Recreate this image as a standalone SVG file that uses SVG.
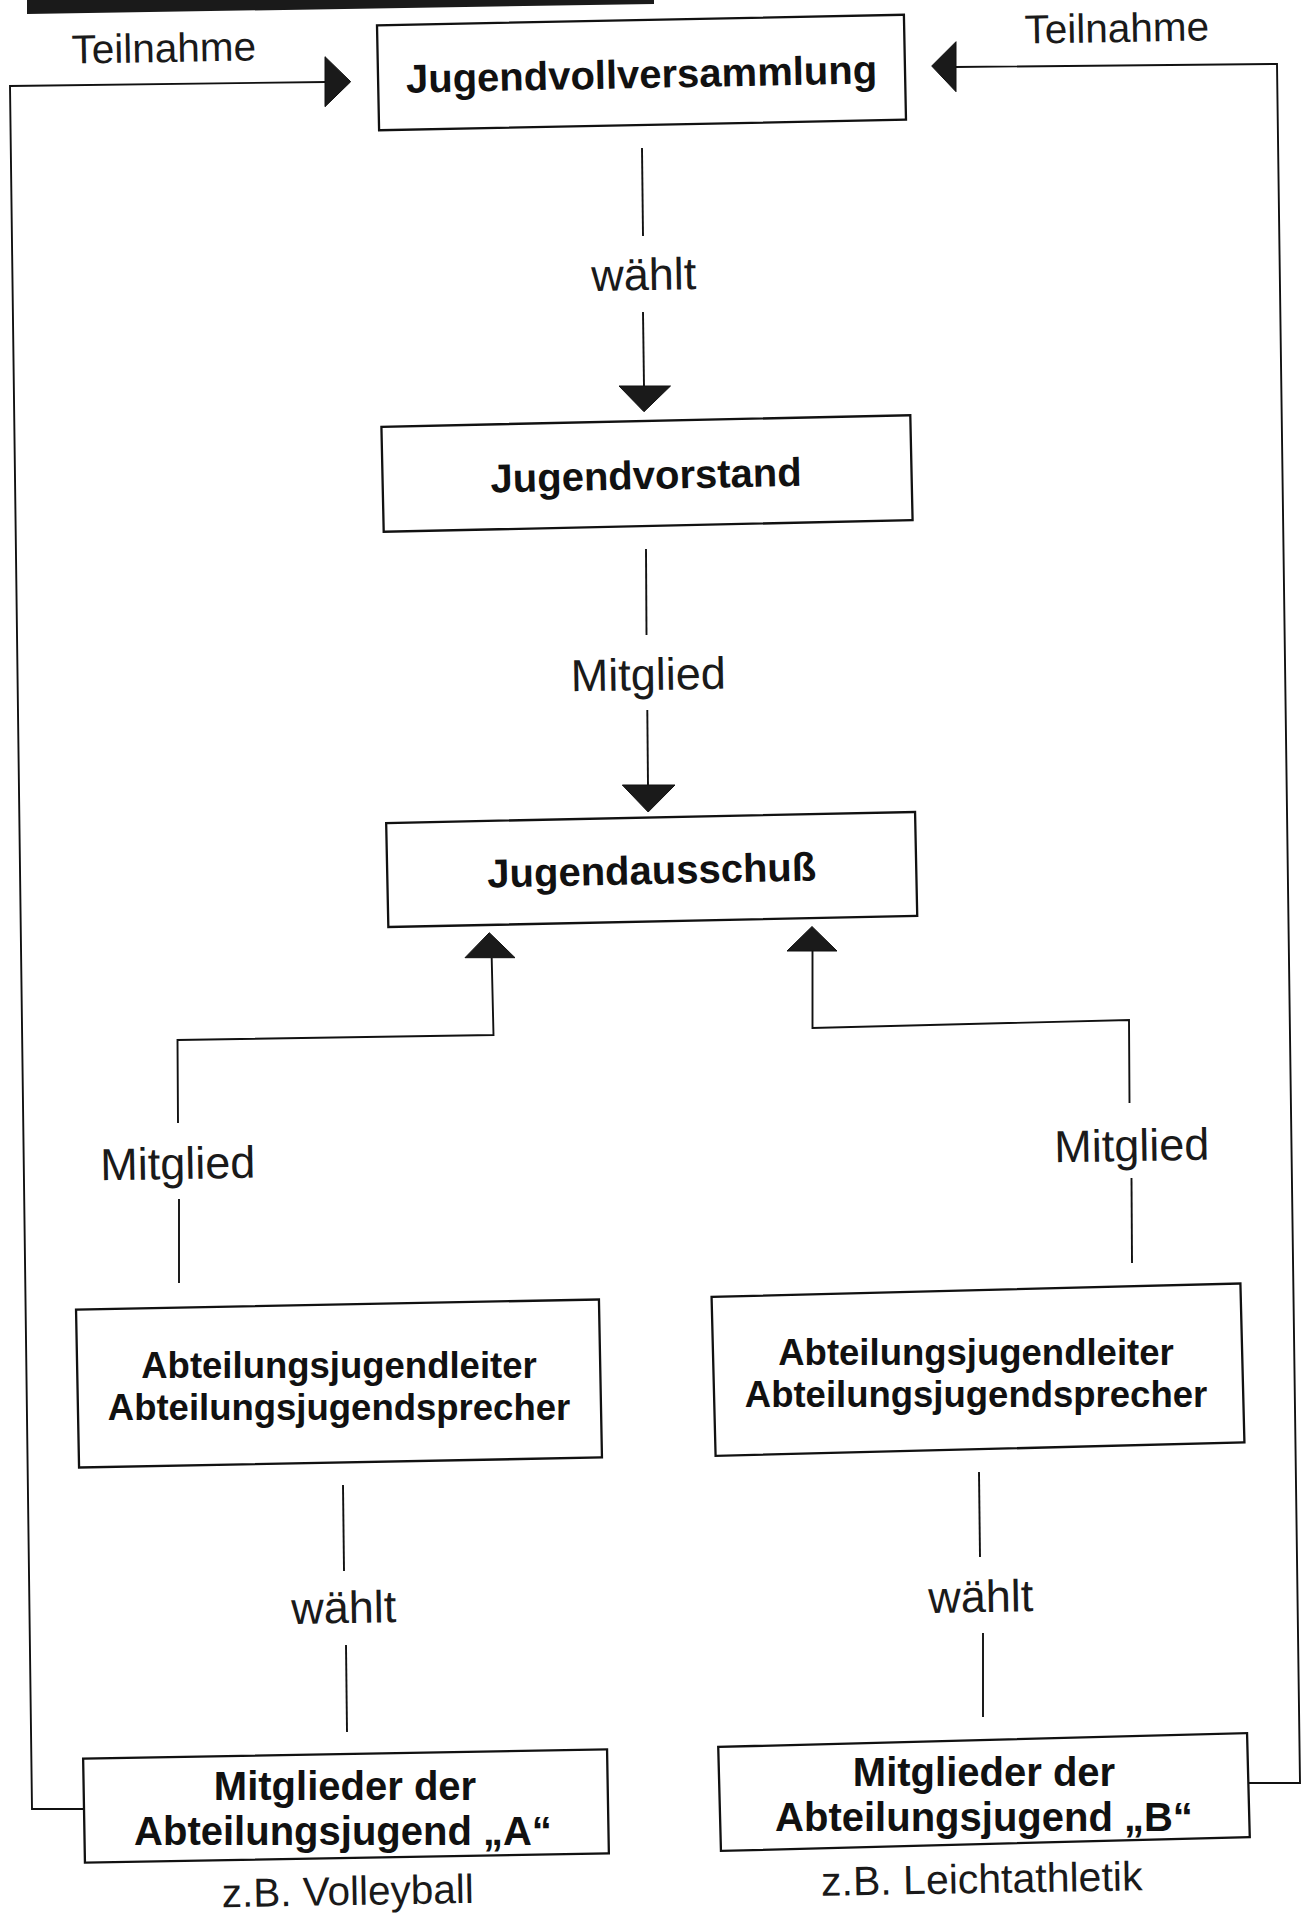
<svg xmlns="http://www.w3.org/2000/svg" width="1303" height="1916" viewBox="0 0 1303 1916">
<style>
.box{fill:#fff;stroke:#111;stroke-width:2.3}
.line{fill:none;stroke:#111;stroke-width:1.9}
.head{fill:#1a1a1a;stroke:#111;stroke-width:1}
.bt{font-family:"Liberation Sans",Arial,sans-serif;font-weight:bold;fill:#111;text-anchor:middle}
.lb{font-family:"Liberation Sans",Arial,sans-serif;fill:#1a1a1a;text-anchor:middle}
</style>
<rect width="1303" height="1916" fill="#fff"/>
<polygon points="27,0 654,0 654,4 27,14" fill="#1a1a1a"/>

<g id="connectors">
  <!-- Jugendvollversammlung -> Jugendvorstand -->
  <polyline class="line" points="642,148 643,236"/>
  <polyline class="line" points="643,312 644,387"/>
  <polygon class="head" points="619,386 670.5,386 644,411.7"/>
  <text class="lb" x="644" y="290" font-size="45" transform="rotate(-1 644 290)">wählt</text>
  <!-- Jugendvorstand -> Jugendausschuß -->
  <polyline class="line" points="646,549 646.5,635"/>
  <polyline class="line" points="647.3,710 648,785"/>
  <polygon class="head" points="622.3,785 675,785 648.2,812"/>
  <text class="lb" x="648.5" y="690" font-size="45" transform="rotate(-1 648.5 690)">Mitglied</text>
  <!-- Abteilung A -> Jugendausschuß -->
  <polyline class="line" points="178,1123 177.5,1040 493.5,1035 491.7,958"/>
  <polyline class="line" points="179,1199 179,1283"/>
  <polygon class="head" points="465,957.7 515,957.7 489.3,932.7"/>
  <text class="lb" x="178" y="1179" font-size="45" transform="rotate(-1 178 1179)">Mitglied</text>
  <!-- Abteilung B -> Jugendausschuß -->
  <polyline class="line" points="1129.5,1103 1129,1020 812.5,1028 812.5,951"/>
  <polyline class="line" points="1131.5,1178 1132,1263"/>
  <polygon class="head" points="787,951 837,951 812,926.5"/>
  <text class="lb" x="1132" y="1161" font-size="45" transform="rotate(-1 1132 1161)">Mitglied</text>
  <!-- Mitglieder A -> Abteilung A -->
  <polyline class="line" points="343,1485 344,1571"/>
  <polyline class="line" points="346,1645 347,1732"/>
  <text class="lb" x="344" y="1623" font-size="45" transform="rotate(-1 344 1623)">wählt</text>
  <!-- Mitglieder B -> Abteilung B -->
  <polyline class="line" points="979,1472 980,1557"/>
  <polyline class="line" points="983,1633 983,1717"/>
  <text class="lb" x="981" y="1612" font-size="45" transform="rotate(-1 981 1612)">wählt</text>
  <!-- Teilnahme left -->
  <polyline class="line" points="84,1809 32,1809 10,86 326,82"/>
  <polygon class="head" points="325,56.7 325,106.7 350.7,81.7"/>
  <text class="lb" x="164" y="62" font-size="40.5" transform="rotate(-1 164 62)">Teilnahme</text>
  <!-- Teilnahme right -->
  <polyline class="line" points="1247,1783 1300,1783 1277,64 955,67"/>
  <polygon class="head" points="956,41.7 956,91.7 931.7,66"/>
  <text class="lb" x="1117" y="42" font-size="40.5" transform="rotate(-1 1117 42)">Teilnahme</text>
</g>

<g id="jugendvollversammlung" transform="rotate(-1.15 641.5 72.5)">
  <rect class="box" x="378" y="20" width="527" height="105"/>
  <text class="bt" x="641.5" y="88" font-size="40">Jugendvollversammlung</text>
</g>
<g id="jugendvorstand" transform="rotate(-1.25 647 473.5)">
  <rect class="box" x="382.5" y="421" width="529" height="105"/>
  <text class="bt" x="646" y="489" font-size="40">Jugendvorstand</text>
</g>
<g id="jugendausschuss" transform="rotate(-1.2 651.7 869.5)">
  <rect class="box" x="387.2" y="817.5" width="529" height="104"/>
  <text class="bt" x="651.7" y="884" font-size="40">Jugendausschuß</text>
</g>
<g id="abteilung-a">
  <rect class="box" x="77.5" y="1304.5" width="523" height="158" transform="rotate(-1.1 339 1383.5)"/>
  <text class="bt" x="339" y="1378" font-size="36.5">Abteilungsjugendleiter</text>
  <text class="bt" x="339" y="1420" font-size="36.5">Abteilungsjugendsprecher</text>
</g>
<g id="abteilung-b">
  <rect class="box" x="713.5" y="1290.2" width="529" height="159" transform="rotate(-1.45 978 1369.7)"/>
  <text class="bt" x="976" y="1364.5" font-size="36.5">Abteilungsjugendleiter</text>
  <text class="bt" x="976" y="1406.5" font-size="36.5">Abteilungsjugendsprecher</text>
</g>
<g id="mitglieder-a">
  <rect class="box" x="84" y="1754" width="524" height="104" transform="rotate(-1.0 346 1806)"/>
  <text class="bt" x="345" y="1800" font-size="40">Mitglieder der</text>
  <text class="bt" x="343" y="1845" font-size="40">Abteilungsjugend „A“</text>
</g>
<g id="mitglieder-b">
  <rect class="box" x="719.5" y="1740" width="529" height="104" transform="rotate(-1.5 984 1792)"/>
  <text class="bt" x="984" y="1786" font-size="40">Mitglieder der</text>
  <text class="bt" x="984" y="1831" font-size="40">Abteilungsjugend „B“</text>
</g>
<text class="lb" x="348" y="1905" font-size="40.5" transform="rotate(-1 348 1905)">z.B. Volleyball</text>
<text class="lb" x="982" y="1893" font-size="41" transform="rotate(-1 982 1893)">z.B. Leichtathletik</text>
</svg>
